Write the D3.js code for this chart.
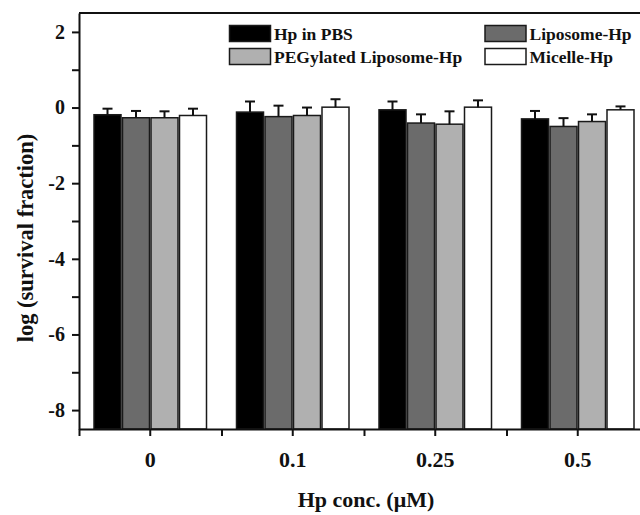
<!DOCTYPE html>
<html>
<head>
<meta charset="utf-8">
<script src="https://cdn.jsdelivr.net/npm/d3@7"></script>
<style>
  body { margin: 0; background: #fff; }
  svg text { font-family: "Liberation Serif", "Times New Roman", serif; font-weight: bold; fill: #111; }
</style>
</head>
<body>
<div id="chart"></div>
<script>
// data
const concs = ["0", "0.1", "0.25", "0.5"]
const series = ["Hp in PBS", "Liposome-Hp", "PEGylated Liposome-Hp", "Micelle-Hp"]
const colors = ["#000000", "#6b6b6b", "#b0b0b0", "#ffffff"]
const hpPBS = [-0.19, -0.12, -0.06, -0.30]
const liposome = [-0.27, -0.24, -0.41, -0.50]
const pegLiposome = [-0.27, -0.21, -0.44, -0.37]
const micelle = [-0.21, 0.01, 0.01, -0.06]
const hpPBSErr = [0.16, 0.28, 0.22, 0.21]
const liposomeErr = [0.18, 0.29, 0.23, 0.22]
const pegLiposomeErr = [0.17, 0.21, 0.34, 0.19]
const micelleErr = [0.18, 0.21, 0.18, 0.09]
const yTicks = [-8, -6, -4, -2, 0, 2]
const yMinor = [-7, -5, -3, -1, 1]

const values = [hpPBS, liposome, pegLiposome, micelle]
const errors = [hpPBSErr, liposomeErr, pegLiposomeErr, micelleErr]

const width = 640
const height = 515
const margin = {top: 13, left: 79, bottom: 86, right: -9}
const w = width - margin.left - margin.right
const h = height - margin.top - margin.bottom

const svg = d3.select("#chart")
    .append("svg")
    .attr("width", width)
    .attr("height", height)
    .append("g")
    .attr("transform", `translate(${margin.left}, ${margin.top})`)

const x0 = d3.scaleBand()
    .domain(concs)
    .range([0, w])
    .paddingInner(0.2)
    .paddingOuter(0.1)

const x1 = d3.scaleBand()
    .domain(series)
    .range([0, x0.bandwidth()])

// boundaries between groups, for the unlabeled ticks
const xEdge = d3.scaleLinear()
    .domain([0, concs.length])
    .range([0, w])

const y = d3.scaleLinear()
    .domain([-8.5, 2.5])
    .range([h, 0])

const rows = concs.map((c, i) => series.map((s, j) => ({
    conc: c, name: s, color: colors[j], v: values[j][i], e: errors[j][i]
})))

const groups = svg.selectAll(".group")
    .data(rows)
    .join("g")
    .attr("class", "group")
    .attr("transform", (d, i) => `translate(${x0(concs[i])}, 0)`)

groups.selectAll("rect")
    .data(d => d)
    .join("rect")
    .attr("x", d => x1(d.name) + 0.75)
    .attr("y", d => y(d.v))
    .attr("width", x1.bandwidth() - 1.5)
    .attr("height", d => y(-8.5) - y(d.v))
    .attr("fill", d => d.color)
    .attr("stroke", "#1a1a1a")
    .attr("stroke-width", 1.5)

const err = groups.selectAll(".err")
    .data(d => d)
    .join("g")
    .attr("class", "err")
    .attr("stroke", "#111")
    .attr("stroke-width", 2)

err.append("line")
    .attr("x1", d => x1(d.name) + x1.bandwidth() / 2)
    .attr("x2", d => x1(d.name) + x1.bandwidth() / 2)
    .attr("y1", d => y(d.v))
    .attr("y2", d => y(d.v + d.e))

err.append("line")
    .attr("x1", d => x1(d.name) + x1.bandwidth() / 2 - 5)
    .attr("x2", d => x1(d.name) + x1.bandwidth() / 2 + 5)
    .attr("y1", d => y(d.v + d.e))
    .attr("y2", d => y(d.v + d.e))

// frame top
svg.append("line")
    .attr("x1", 0).attr("x2", w)
    .attr("y1", 0).attr("y2", 0)
    .attr("stroke", "#111")
    .attr("stroke-width", 2)

const yAxis = d3.axisLeft(y)
    .tickValues(yTicks)
    .tickFormat(d => String(d))
    .tickSize(7)
    .tickSizeOuter(0)
    .tickPadding(7)

svg.append("g")
    .attr("class", "axis y-axis")
    .call(yAxis)

svg.append("g")
    .attr("class", "axis y-minor")
    .call(d3.axisLeft(y).tickValues(yMinor).tickSize(7).tickSizeOuter(0).tickFormat(""))
    .select(".domain").remove()

const xAxis = d3.axisBottom(x0)
    .tickSize(7)
    .tickSizeOuter(0)
    .tickPadding(15)

svg.append("g")
    .attr("class", "axis x-axis")
    .attr("transform", `translate(0, ${h})`)
    .call(xAxis)

svg.append("g")
    .attr("class", "axis x-minor")
    .attr("transform", `translate(0, ${h})`)
    .call(d3.axisBottom(xEdge).tickValues(d3.range(concs.length + 1)).tickSize(7).tickSizeOuter(0).tickFormat(""))
    .select(".domain").remove()

svg.selectAll(".axis path, .axis line")
    .attr("stroke", "#111")
    .attr("stroke-width", 2)

svg.selectAll(".y-axis text")
    .attr("font-size", 20)
svg.selectAll(".x-axis text")
    .attr("font-size", 22)

// axis titles
svg.append("text")
    .attr("transform", `translate(${33 - margin.left}, ${238 - margin.top}) rotate(-90)`)
    .attr("text-anchor", "middle")
    .attr("font-size", 22.5)
    .text("log (survival fraction)")

svg.append("text")
    .attr("x", 366 - margin.left)
    .attr("y", 507 - margin.top)
    .attr("text-anchor", "middle")
    .attr("font-size", 22)
    .text("Hp conc. (μM)")

// legend, two columns
const legend = svg.append("g")
    .attr("class", "legend")
    .selectAll("g")
    .data(series)
    .join("g")
    .attr("transform", (d, i) => `translate(${(i % 2 ? 485 : 229.5) - margin.left}, ${(i < 2 ? 25.5 : 48.5) - margin.top})`)

legend.append("rect")
    .attr("width", 41)
    .attr("height", 16)
    .attr("fill", (d, i) => colors[i])
    .attr("stroke", "#1a1a1a")
    .attr("stroke-width", 1.5)

legend.append("text")
    .attr("x", 44.5)
    .attr("y", 14.5)
    .attr("font-size", 17.5)
    .text(d => d)
</script>
</body>
</html>
